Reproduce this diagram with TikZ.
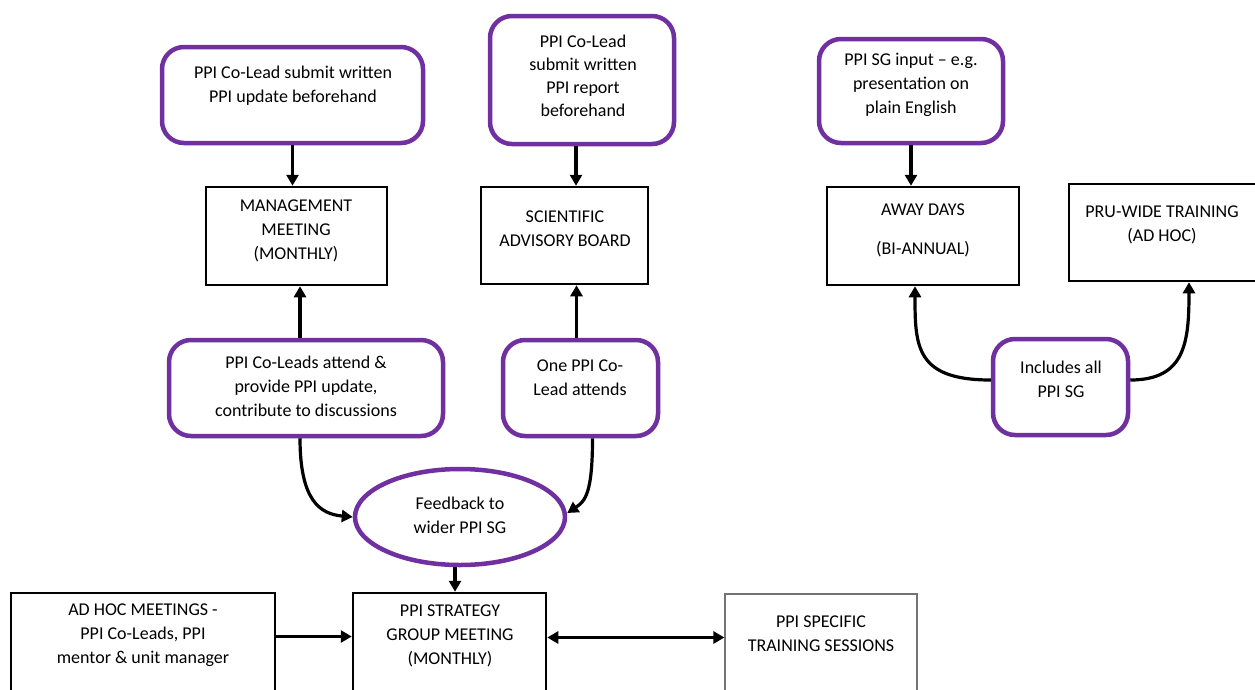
\documentclass[tikz,border=0pt]{standalone}
\usepackage{fontspec}
\setmainfont{Carlito}
\usetikzlibrary{arrows.meta,calc,shapes.geometric}
\definecolor{ppurple}{HTML}{7030A0}
\newcommand\placebox[6]{\node[#2,minimum width={#5-#3},minimum height={#6-#4},inner sep=0pt] (#1) at ({(#3+#5)/2},{(#4+#6)/2}) {};}
\begin{document}
\begin{tikzpicture}[x=1pt,y=-1pt,
 pbox/.style={draw=ppurple,line width=4.5pt,rounded corners=22pt,fill=white},
 bbox/.style={draw=black,line width=2.5pt,fill=white},
 gbox/.style={draw=black!55,line width=1.2pt,fill=white},
 txt/.style={align=center,font=\fontsize{18}{24}\selectfont,inner sep=0pt},
 arr/.style={line width=3.2pt,-{Triangle[length=11pt,width=12pt]}},
 darr/.style={line width=3.2pt,{Triangle[length=11pt,width=12pt]}-{Triangle[length=11pt,width=12pt]}}]
\useasboundingbox (0,0) rectangle (1255,689);
\clip (0,0) rectangle (1255,689);
\fill[white] (0,0) rectangle (1255,689);
% boxes
\placebox{b1}{pbox}{162}{47}{423}{143}
\placebox{b2}{pbox}{490}{16}{674}{144}
\placebox{mm}{bbox}{206}{187}{387}{285}
\placebox{sab}{bbox}{481}{187}{648}{284}
\placebox{ca}{pbox}{169}{340}{443}{436}
\placebox{one}{pbox}{503}{340}{658}{436}
\node[draw=ppurple,line width=4.5pt,ellipse,minimum width=210pt,minimum height=96pt,inner sep=0pt] (fb) at (460,517) {};
\placebox{adhoc}{bbox}{11}{593}{275}{720}
\placebox{strat}{bbox}{353}{593}{546}{720}
\placebox{spec}{gbox}{725}{594}{917}{720}
\placebox{sg}{pbox}{819}{39}{1003}{143}
\placebox{away}{bbox}{827}{187}{1019}{285}
\placebox{pru}{bbox}{1069}{184}{1290}{281}
\placebox{inc}{pbox}{993}{339}{1128}{435}
% texts
\node[txt] (t1) at (293,86) {PPI Co-Lead submit written\\PPI update beforehand};
\node[txt,font=\fontsize{18}{23}\selectfont] (t2) at (583,76) {PPI Co-Lead\\submit written\\PPI report\\beforehand};
\node[txt] (tmm) at (296,231) {MANAGEMENT\\MEETING\\(MONTHLY)};
\node[txt] (tsab) at (565,229) {SCIENTIFIC\\ADVISORY BOARD};
\node[txt] (tca) at (306,386) {PPI Co-Leads attend \&\\provide PPI update,\\contribute to discussions};
\node[txt] (tone) at (580,378) {One PPI Co-\\Lead attends};
\node[txt] (tfb) at (460,515) {Feedback to\\wider PPI SG};
\node[txt] (tadhoc) at (143,635) {AD HOC MEETINGS -\\PPI Co-Leads, PPI\\mentor \& unit manager};
\node[txt] (tstrat) at (450,636) {PPI STRATEGY\\GROUP MEETING\\(MONTHLY)};
\node[txt] (tspec) at (821,634) {PPI SPECIFIC\\TRAINING SESSIONS};
\node[txt] (tsg) at (911,85) {PPI SG input -- e.g.\\presentation on\\plain English};
\node[txt] (taway) at (923,230) {AWAY DAYS\\[15pt](BI-ANNUAL)};
\node[txt] (tpru) at (1162,225) {PRU-WIDE TRAINING\\(AD HOC)};
\node[txt] (tinc) at (1061,379) {Includes all\\PPI SG};
% connectors
\draw[arr] (b1.south) -- (b1.south |- mm.north);
\draw[arr] ([xshift=-6pt]b2.south) -- ([xshift=-6pt]b2.south |- sab.north);
\draw[arr] ([xshift=-6pt]ca.north) -- ([xshift=-6pt]ca.north |- mm.south);
\draw[arr] ([xshift=-4pt]one.north) -- ([xshift=-4pt]one.north |- sab.south);
\draw[arr] ([xshift=-6pt]ca.south) .. controls +(0,62) and +(-33,-3) .. (fb.west);
\draw[arr] ([xshift=12pt]one.south) .. controls +(0,55) and +(18,-12) .. ([yshift=4pt]fb.east);
\draw[arr] ([xshift=-5pt]fb.south) -- ([xshift=-5pt]fb.south |- strat.north);
\draw[arr] ([yshift=20pt]adhoc.east) -- ([yshift=20pt]adhoc.east -| strat.west);
\draw[darr] ([yshift=19pt]strat.east) -- ([yshift=19pt]strat.east -| spec.west);
\draw[arr] (sg.south) -- (sg.south |- away.north);
\draw[arr] ([yshift=7pt]inc.west) .. controls +(-75,0) and +(0,60) .. ([xshift=-8pt]away.south);
\draw[arr] ([yshift=7pt]inc.east) .. controls +(55,0) and +(0,60) .. ([xshift=9.5pt]pru.south);
\end{tikzpicture}
\end{document}
